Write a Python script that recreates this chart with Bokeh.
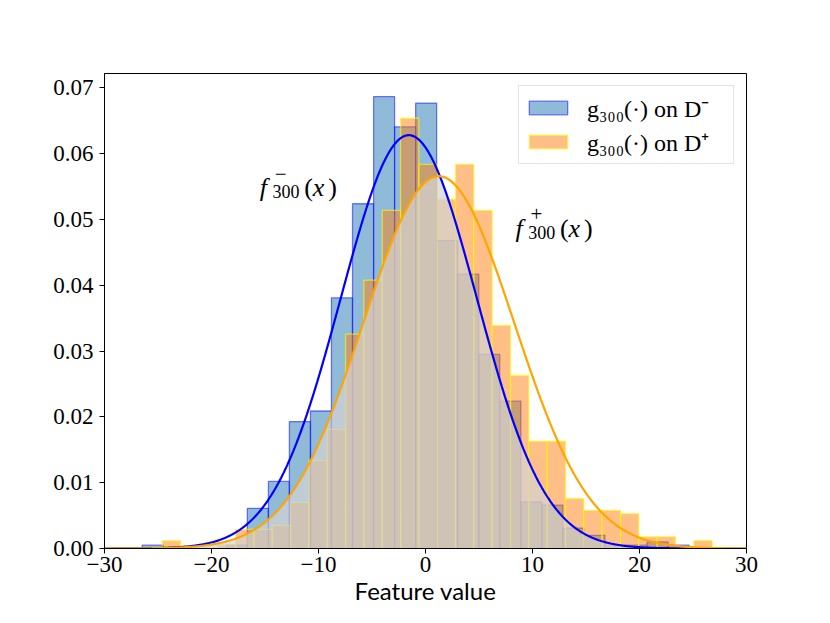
import numpy as np
from bokeh.plotting import figure
from bokeh.models import (Legend, LegendItem, Label, FixedTicker, Range1d,
                          PrintfTickFormatter)
from bokeh.embed import file_html
from bokeh.resources import INLINE

# ---------------- data ----------------
# histogram of g_300(.) on D-  (density)
neg_edges = [-26.48, -24.51, -22.55, -20.58, -18.62, -16.65, -14.68, -12.72,
             -10.75, -8.79, -6.82, -4.85, -2.89, -0.92, 1.04, 3.01, 4.98,
             6.94, 8.91, 10.87, 12.84, 14.81, 16.77, 18.74, 20.70, 22.67, 24.64]
neg_density = [0.0005, 0.0, 0.0, 0.0, 0.0005, 0.0061, 0.0102, 0.0193, 0.0209,
               0.0381, 0.0524, 0.0687, 0.0641, 0.0677, 0.0468, 0.0417, 0.0295,
               0.0224, 0.0071, 0.0066, 0.0031, 0.0020, 0.0005, 0.0005, 0.0010,
               0.0005]

# histogram of g_300(.) on D+  (density)
pos_edges = [-24.60, -22.89, -21.17, -19.46, -17.75, -16.04, -14.32, -12.61,
             -10.90, -9.18, -7.47, -5.76, -4.04, -2.33, -0.62, 1.10, 2.81,
             4.52, 6.23, 7.95, 9.66, 11.37, 13.09, 14.80, 16.51, 18.23, 19.94,
             21.65, 23.36, 25.08, 26.79]
pos_density = [0.0012, 0.0, 0.0, 0.0006, 0.0029, 0.0029, 0.0035, 0.0070,
               0.0134, 0.0181, 0.0326, 0.0408, 0.0514, 0.0654, 0.0584, 0.0531,
               0.0584, 0.0514, 0.0339, 0.0263, 0.0163, 0.0163, 0.0076, 0.0058,
               0.0058, 0.0053, 0.0018, 0.0018, 0.0, 0.0012]

# fitted normal densities f_300^-(x) and f_300^+(x)
neg_mu, neg_sd = -1.56, 6.35
pos_mu, pos_sd = 1.24, 7.05

x_ticks = [-30, -20, -10, 0, 10, 20, 30]
y_ticks = [0.0, 0.01, 0.02, 0.03, 0.04, 0.05, 0.06, 0.07]

label_neg = "g\u2083\u2080\u2080(\u00b7) on D\u207b"
label_pos = "g\u2083\u2080\u2080(\u00b7) on D\u207a"

# ---------------- figure ----------------
SERIF = "Liberation Serif"

p = figure(width=814, height=607, output_backend="svg", toolbar_location=None,
           x_range=Range1d(-30, 30), y_range=Range1d(0, 0.0722),
           min_border_left=104, min_border_right=68, min_border_top=73,
           min_border_bottom=57)
p.grid.visible = False
p.outline_line_color = "black"
p.outline_line_width = 1
p.background_fill_color = "white"
p.border_fill_color = "white"

for ax in (p.xaxis[0], p.yaxis[0]):
    ax.axis_line_color = "black"
    ax.major_tick_line_color = "black"
    ax.major_tick_out = 5
    ax.major_tick_in = 0
    ax.minor_tick_line_color = None
    ax.major_label_text_font = SERIF
    ax.major_label_text_font_size = "23px"
    ax.major_label_text_color = "black"

p.xaxis[0].ticker = FixedTicker(ticks=x_ticks)
p.xaxis[0].major_label_overrides = {t: (str(t).replace("-", "\u2212")) for t in x_ticks}
p.xaxis[0].major_label_standoff = 3
p.xaxis[0].axis_label = "Feature value"
p.xaxis[0].axis_label_text_font = "Lato"
p.xaxis[0].axis_label_text_font_style = "normal"
p.xaxis[0].axis_label_text_font_size = "24px"
p.xaxis[0].axis_label_text_color = "black"
p.xaxis[0].axis_label_standoff = 1

p.yaxis[0].ticker = FixedTicker(ticks=y_ticks)
p.yaxis[0].formatter = PrintfTickFormatter(format="%.2f")
p.yaxis[0].major_label_standoff = 6

# histograms
r_neg = p.quad(left=neg_edges[:-1], right=neg_edges[1:], bottom=0, top=neg_density,
               fill_color="#1f77b4", fill_alpha=0.5,
               line_color="blue", line_alpha=0.5, line_width=1.3)
r_pos = p.quad(left=pos_edges[:-1], right=pos_edges[1:], bottom=0, top=pos_density,
               fill_color="#ff7f0e", fill_alpha=0.5,
               line_color="yellow", line_alpha=0.6, line_width=1.3)

# fitted densities
xs = np.linspace(-30, 30, 801)
f_neg = np.exp(-0.5 * ((xs - neg_mu) / neg_sd) ** 2) / (neg_sd * np.sqrt(2 * np.pi))
f_pos = np.exp(-0.5 * ((xs - pos_mu) / pos_sd) ** 2) / (pos_sd * np.sqrt(2 * np.pi))

# overlap of the two densities
p.varea(x=xs, y1=np.zeros_like(xs), y2=np.minimum(f_neg, f_pos),
        fill_color="#d3d3d3", fill_alpha=0.7)

p.line(xs, f_neg, line_color="blue", line_width=2.2)
p.line(xs, f_pos, line_color="orange", line_width=2.2)

# annotations f_300^-(x), f_300^+(x)
def lab(x, y, text, size, style="normal"):
    p.add_layout(Label(x=x, y=y, text=text, text_font=SERIF,
                       text_font_size=f"{size}px", text_font_style=style,
                       text_baseline="alphabetic", text_align="left",
                       text_color="black"))

def f_label(x0, y0, sign):
    lab(x0, y0, "f", 26, "italic")
    lab(x0 + 1.40, y0 + 0.0021, sign, 21)
    lab(x0 + 1.20, y0 - 0.0006, "300", 18)
    lab(x0 + 4.15, y0, "(", 26)
    lab(x0 + 4.95, y0, "x", 26, "italic")
    lab(x0 + 6.40, y0, ")", 26)

f_label(-15.49, 0.0549, "\u2212")
f_label(8.41, 0.0487, "+")

legend = Legend(items=[LegendItem(label=label_neg, renderers=[r_neg]),
                       LegendItem(label=label_pos, renderers=[r_pos])],
                location="top_right", margin=12, padding=5, spacing=1,
                glyph_width=48, glyph_height=17, label_height=24,
                label_width=141, label_standoff=15,
                label_text_font=SERIF, label_text_font_size="24px",
                label_text_color="black",
                border_line_color="#cccccc", border_line_width=1,
                background_fill_color="white", background_fill_alpha=0.8)
p.add_layout(legend)

open("out.html", "w").write(file_html(p, INLINE))
